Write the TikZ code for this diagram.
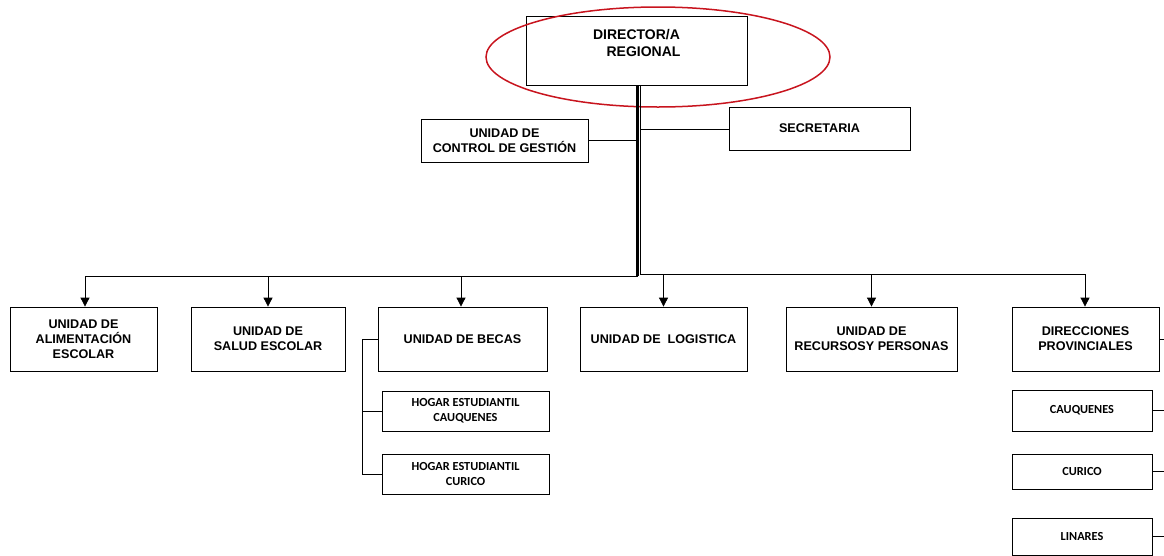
\documentclass[tikz,border=0pt]{standalone}
\usepackage{fontspec}
\setmainfont{Liberation Sans}
\newfontfamily\calfont{Carlito}
\usetikzlibrary{arrows.meta}
\definecolor{ellred}{RGB}{200,20,30}
\begin{document}
\begin{tikzpicture}[x=1pt,y=-1pt,
  box/.style={draw, line width=0.8pt, align=center, inner sep=0pt,
    font=\fontsize{12.6}{14.8}\selectfont\bfseries},
  smallbox/.style={draw, line width=0.8pt, align=center, inner sep=0pt,
    font=\calfont\fontsize{12.3}{15}\selectfont\bfseries},
  conn/.style={line width=0.8pt},
  arr/.style={line width=0.8pt, -{Triangle[width=9pt,length=9pt]}},
  trunk/.style={line width=2.6pt}]
\useasboundingbox (0,0) rectangle (1164,555);
\clip (0,0) rectangle (1164,555);
\fill[white] (0,0) rectangle (1164,555);

% top
\node[box, font=\fontsize{14}{16.5}\selectfont\bfseries, minimum width=221pt, minimum height=69pt] (director) at (636.5,50.5) {DIRECTOR/A\\ \hspace*{14pt}REGIONAL\\[-6pt] \strut};
\node[box, minimum width=167pt, minimum height=43pt] (control) at (504.5,140.5) {UNIDAD DE\\CONTROL DE GESTIÓN};
\node[box, minimum width=181pt, minimum height=43pt] (secre) at (819.5,128.5) {SECRETARIA};

% bottom row
\node[box, minimum width=147pt, minimum height=64pt] (alim) at (83.5,339) {UNIDAD DE\\ALIMENTACIÓN\\ESCOLAR};
\node[box, minimum width=154pt, minimum height=64pt] (salud) at (268,339) {UNIDAD DE\\SALUD ESCOLAR};
\node[box, minimum width=169pt, minimum height=64pt] (becas) at (462.5,339) {UNIDAD DE BECAS};
\node[box, minimum width=167pt, minimum height=64pt] (logis) at (663.5,339) {UNIDAD DE\ \ LOGISTICA};
\node[box, minimum width=171pt, minimum height=64pt] (recur) at (871.5,339) {UNIDAD DE\\RECURSOSY PERSONAS};
\node[box, minimum width=147pt, minimum height=64pt] (dirp) at (1085.5,339) {DIRECCIONES\\PROVINCIALES};

% becas sub
\node[smallbox, minimum width=167pt, minimum height=40pt] (hcau) at (465.5,411) {HOGAR ESTUDIANTIL\\CAUQUENES};
\node[smallbox, minimum width=167pt, minimum height=40pt] (hcur) at (465.5,474) {HOGAR ESTUDIANTIL\\CURICO};

% provincias
\node[smallbox, minimum width=140pt, minimum height=41pt] (pcau) at (1082,410.5) {CAUQUENES};
\node[smallbox, minimum width=140pt, minimum height=35pt] (pcur) at (1082,471.5) {CURICO};
\node[smallbox, minimum width=140pt, minimum height=37pt] (plin) at (1082,536.5) {LINARES};

% ellipse
\draw[ellred, line width=1.5pt] (658,57) ellipse [x radius=172, y radius=50];

% trunk
\coordinate (jL) at (637.5,276);
\coordinate (jR) at (640,274);
\draw[trunk] (director.south -| jL) -- (jL);
\draw[conn] (director.south -| jR) -- (jR);
\draw[conn] (control.east) -- (control.east -| jL);
\coordinate (sj) at (640,129);
\draw[conn] (sj) -- (secre.west |- sj);

% horizontals
\draw[conn] (jL) -- (85,276) coordinate (aL);
\draw[conn] (jR) -- (1085,274) coordinate (aR);

\draw[arr] (aL) -- (aL |- alim.north);
\draw[arr] (salud.north |- jL) -- (salud.north);
\draw[arr] (461,276) -- (461,0 |- becas.north);
\draw[arr] (logis.north |- jR) -- (logis.north);
\draw[arr] (recur.north |- jR) -- (recur.north);
\draw[arr] (aR) -- (aR |- dirp.north);

% becas bracket
\coordinate (bx) at (362,339);
\draw[conn] (becas.west) -- (bx) -- (bx |- hcur.west) -- (hcur.west);
\draw[conn] (bx |- hcau.west) -- (hcau.west);

% right edge stubs
\coordinate (edge) at (1164,0);
\draw[conn] (dirp.east) -- (dirp.east -| edge);
\draw[conn] (pcau.east) -- (pcau.east -| edge);
\draw[conn] (pcur.east) -- (pcur.east -| edge);
\draw[conn] (plin.east) -- (plin.east -| edge);
\end{tikzpicture}
\end{document}
